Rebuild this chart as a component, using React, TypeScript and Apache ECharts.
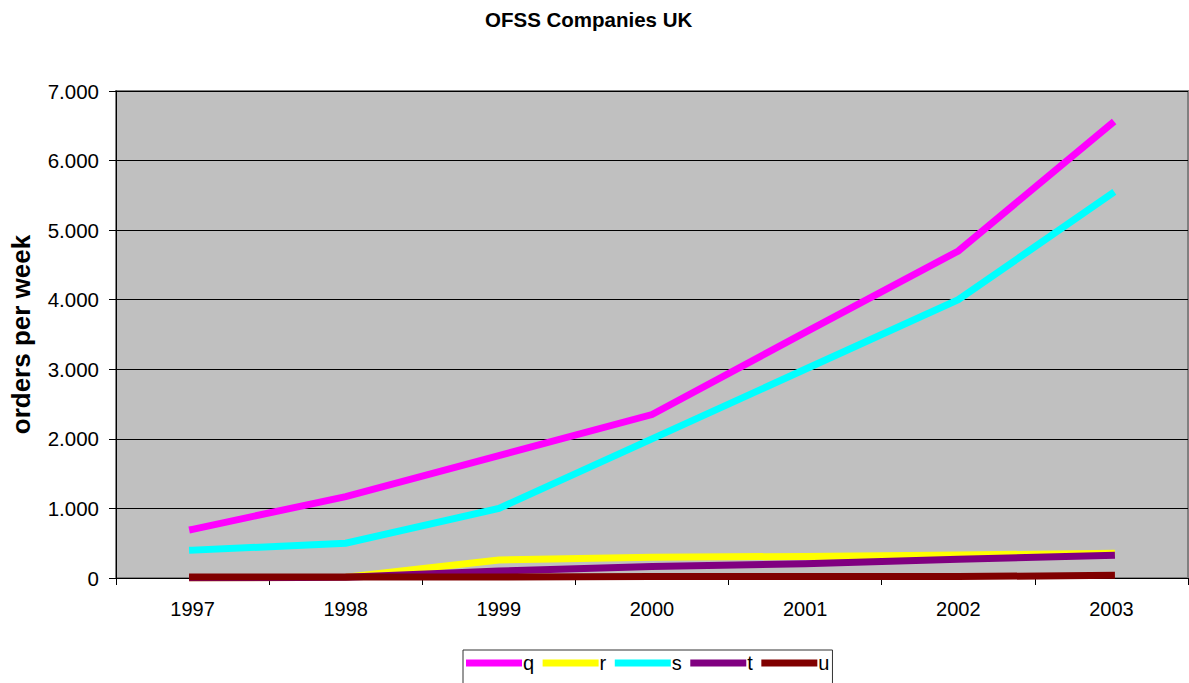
import React, { useEffect, useRef } from "react";
import * as echarts from "echarts";

// Weekly orders per company, 1997–2003
const years = ["1997", "1998", "1999", "2000", "2001", "2002", "2003"];
const qValues = [700, 1170, 1760, 2350, 3530, 4700, 6530];
const rValues = [0, 10, 260, 300, 310, 330, 355];
const sValues = [400, 500, 1000, 2000, 3000, 4000, 5520];
const tValues = [0, 10, 100, 165, 205, 270, 325];
const uValues = [15, 15, 15, 20, 20, 20, 38];

const seriesNames = ["q", "r", "s", "t", "u"];
const seriesColors = ["#FF00FF", "#FFFF00", "#00FFFF", "#800080", "#800000"];
const seriesData = [qValues, rValues, sValues, tValues, uValues];

const FONT = "'Liberation Sans', Arial, Helvetica, sans-serif";

// 1000 -> "1.000"
const formatThousands = (v: number) =>
  String(Math.round(v)).replace(/\B(?=(\d{3})+(?!\d))/g, ".");

export default function App() {
  const ref = useRef<HTMLDivElement>(null);

  useEffect(() => {
    document.body.style.margin = "0";
    if (!ref.current) return;
    const chart = echarts.init(ref.current, null, { renderer: "svg" });

    chart.setOption({
      animation: false,
      backgroundColor: "#FFFFFF",
      textStyle: { fontFamily: FONT },
      title: {
        text: "OFSS Companies UK",
        left: 485,
        top: 8,
        padding: 0,
        textStyle: {
          fontFamily: FONT,
          fontSize: 20.5,
          fontWeight: "bold",
          color: "#000",
          lineHeight: 22,
        },
      },
      legend: {
        data: seriesNames,
        left: 463,
        top: 650,
        orient: "horizontal",
        icon: "rect",
        itemWidth: 56,
        itemHeight: 7,
        itemGap: 8.5,
        padding: [1, 3, 30, 3],
        borderColor: "#333",
        borderWidth: 1,
        textStyle: {
          fontFamily: FONT,
          fontSize: 20,
          color: "#000",
          lineHeight: 14,
          padding: [10, 0, 0, -4],
        },
      },
      grid: {
        left: 114,
        right: 1,
        top: 91,
        bottom: 105,
        show: true,
        backgroundColor: "#C0C0C0",
        borderColor: "#808080",
        borderWidth: 2,
      },
      xAxis: {
        type: "category",
        data: years,
        boundaryGap: true,
        axisLine: { show: true, lineStyle: { color: "#000", width: 1 } },
        axisTick: {
          show: true,
          inside: false,
          length: 7,
          lineStyle: { color: "#000", width: 1 },
        },
        axisLabel: {
          margin: 21,
          fontFamily: FONT,
          fontSize: 20,
          color: "#000",
        },
        splitLine: { show: false },
      },
      yAxis: {
        type: "value",
        min: 0,
        max: 7000,
        interval: 1000,
        name: "orders per week",
        nameLocation: "middle",
        nameGap: 82,
        nameTextStyle: {
          fontFamily: FONT,
          fontSize: 26,
          fontWeight: "bold",
          color: "#000",
        },
        axisLine: { show: true, lineStyle: { color: "#000", width: 1 } },
        axisTick: {
          show: true,
          inside: false,
          length: 7,
          lineStyle: { color: "#000", width: 1 },
        },
        axisLabel: {
          margin: 17,
          fontFamily: FONT,
          fontSize: 20.5,
          color: "#000",
          formatter: (v: number) => formatThousands(v),
        },
        splitLine: { show: true, lineStyle: { color: "#000", width: 1 } },
      },
      series: seriesNames.map((name, i) => ({
        name,
        type: "line",
        data: seriesData[i],
        color: seriesColors[i],
        showSymbol: false,
        symbol: "none",
        lineStyle: { color: seriesColors[i], width: 7, cap: "square", join: "miter" },
        z: 2 + i * 0.01,
      })),
    });

    return () => chart.dispose();
  }, []);

  return <div ref={ref} style={{ width: 1189, height: 683 }} />;
}
